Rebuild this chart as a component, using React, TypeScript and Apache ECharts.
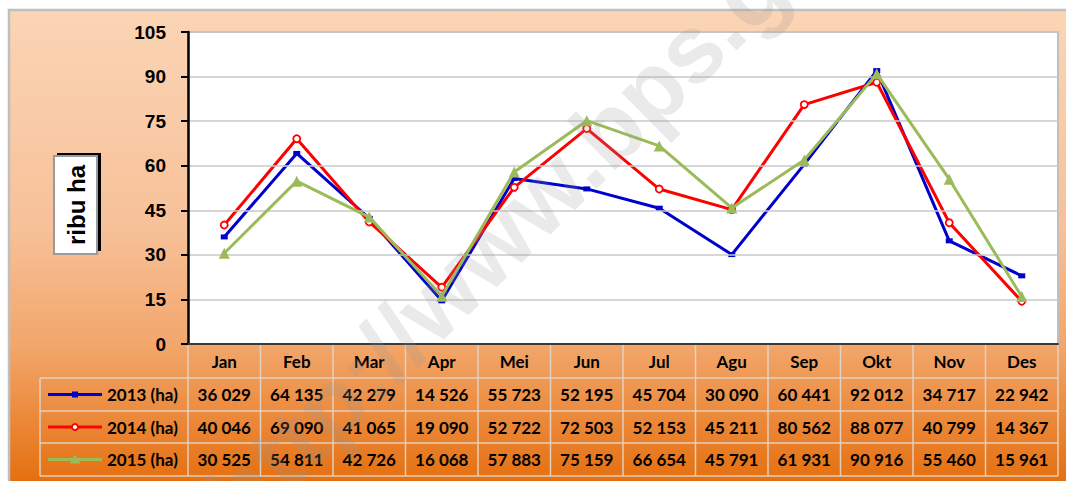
import React, { useEffect, useRef } from "react";
import * as echarts from "echarts";

const months = ["Jan", "Feb", "Mar", "Apr", "Mei", "Jun", "Jul", "Agu", "Sep", "Okt", "Nov", "Des"];
const s2013 = [36029, 64135, 42279, 14526, 55723, 52195, 45704, 30090, 60441, 92012, 34717, 22942];
const s2014 = [40046, 69090, 41065, 19090, 52722, 72503, 52153, 45211, 80562, 88077, 40799, 14367];
const s2015 = [30525, 54811, 42726, 16068, 57883, 75159, 66654, 45791, 61931, 90916, 55460, 15961];
const seriesNames = ["2013 (ha)", "2014 (ha)", "2015 (ha)"];
const yMin = 0;
const yMax = 105;
const yInterval = 15;
const yLabel = "ribu ha";
const watermark = "http://www.bps.go.id";

const colors = ["#0000CC", "#FF0000", "#9BBB59"];
const symbols = ["rect", "circle", "triangle"];
const fmt = (n: number) => n.toString().replace(/\B(?=(\d{3})+(?!\d))/g, " ");

export default function App() {
  const ref = useRef<HTMLDivElement>(null);
  useEffect(() => {
    if (!ref.current) return;
    const chart = echarts.init(ref.current, null, { renderer: "svg" });
    const all = [s2013, s2014, s2015];
    const symbolSizes: any[] = [[7, 5], 7, 11];
    chart.setOption({
      animation: false,
      backgroundColor: "#ffffff",
      grid: {
        left: 188,
        top: 32,
        width: 870,
        height: 312,
        show: true,
        backgroundColor: "#ffffff",
        borderColor: "#BFBFBF",
        borderWidth: 2,
        z: 1,
      },
      xAxis: {
        type: "category",
        data: months,
        boundaryGap: true,
        axisLine: { lineStyle: { color: "#3a3a3a", width: 2 } },
        axisTick: { show: false },
        axisLabel: {
          margin: 17,
          verticalAlign: "middle",
          fontFamily: "Lato",
          fontWeight: "bold",
          fontSize: 17,
          color: "#000",
        },
        splitLine: { show: false },
        z: 5,
      },
      yAxis: {
        type: "value",
        min: yMin,
        max: yMax,
        interval: yInterval,
        axisLine: { show: true, lineStyle: { color: "#000", width: 2.5 } },
        axisTick: { show: true, length: 7, lineStyle: { color: "#000", width: 2 } },
        axisLabel: {
          margin: 22,
          fontFamily: "Liberation Sans",
          fontWeight: "bold",
          fontSize: 19,
          color: "#000",
        },
        splitLine: { show: true, lineStyle: { color: "#C8C8C8", width: 1.5 } },
        z: 5,
      },
      series: all.map((d, i) => ({
        type: "line",
        name: seriesNames[i],
        data: d.map((v) => v / 1000),
        symbol: symbols[i],
        symbolSize: symbolSizes[i],
        showAllSymbol: true,
        lineStyle: { color: colors[i], width: 3 },
        itemStyle:
          i === 1
            ? { color: "#ffffff", borderColor: colors[i], borderWidth: 1.8 }
            : { color: colors[i], borderWidth: 0 },
        z: 3 + i,
      })),
    });

    const gridRight = 1058;
    const axisY = 344;
    const rowLines = [378, 411, 443, 476];
    const legendLeft = 40;
    const lineColor = "rgba(225,215,205,0.9)";
    const textColor = "#000";
    const elements: any[] = [];

    elements.push({
      type: "rect",
      z: -10,
      silent: true,
      shape: { x: 0, y: 0, width: 1066, height: 481 },
      style: { fill: "#ffffff" },
    });
    elements.push({
      type: "rect",
      z: -9,
      silent: true,
      shape: { x: 9, y: 10, width: 1070, height: 480 },
      style: {
        fill: new echarts.graphic.LinearGradient(0, 0, 0, 1, [
          { offset: 0, color: "#FBD5B5" },
          { offset: 0.45, color: "#F7C199" },
          { offset: 0.7, color: "#F2A66B" },
          { offset: 1, color: "#E46C0A" },
        ]),
        stroke: "#BFBFBF",
        lineWidth: 2.5,
      },
    });

    const colW = chart.convertToPixel({ xAxisIndex: 0 }, 1) - chart.convertToPixel({ xAxisIndex: 0 }, 0);
    const centers = months.map((_, i) => chart.convertToPixel({ xAxisIndex: 0 }, i));
    const bounds = [centers[0] - colW / 2, ...centers.map((c) => c + colW / 2)];

    bounds.forEach((bx) => {
      elements.push({
        type: "line",
        z: 10,
        silent: true,
        shape: { x1: bx, y1: axisY + 1, x2: bx, y2: rowLines[3] },
        style: { stroke: lineColor, lineWidth: 1.5 },
      });
    });
    elements.push({
      type: "line",
      z: 10,
      silent: true,
      shape: { x1: legendLeft, y1: rowLines[0], x2: legendLeft, y2: rowLines[3] },
      style: { stroke: lineColor, lineWidth: 1.5 },
    });
    rowLines.forEach((ry) => {
      elements.push({
        type: "line",
        z: 10,
        silent: true,
        shape: { x1: legendLeft, y1: ry, x2: gridRight, y2: ry },
        style: { stroke: lineColor, lineWidth: 1.5 },
      });
    });

    all.forEach((d, r) => {
      const cy = (rowLines[r] + rowLines[r + 1]) / 2;
      d.forEach((v, i) => {
        elements.push({
          type: "text",
          z: 11,
          silent: true,
          style: {
            text: fmt(v),
            x: centers[i],
            y: cy,
            align: "center",
            verticalAlign: "middle",
            fontFamily: "Lato",
            fontWeight: "bold",
            fontSize: 17,
            fill: textColor,
          },
        });
      });
      elements.push({
        type: "line",
        z: 11,
        silent: true,
        shape: { x1: 48, y1: cy, x2: 102, y2: cy },
        style: { stroke: colors[r], lineWidth: 3 },
      });
      if (r === 0) {
        elements.push({
          type: "rect",
          z: 12,
          silent: true,
          shape: { x: 72, y: cy - 3, width: 6, height: 6 },
          style: { fill: colors[r] },
        });
      } else if (r === 1) {
        elements.push({
          type: "circle",
          z: 12,
          silent: true,
          shape: { cx: 75, cy, r: 3 },
          style: { fill: "#fff", stroke: colors[r], lineWidth: 1.8 },
        });
      } else {
        elements.push({
          type: "polygon",
          z: 12,
          silent: true,
          shape: { points: [[75, cy - 5], [80.5, cy + 4], [69.5, cy + 4]] },
          style: { fill: colors[r] },
        });
      }
      elements.push({
        type: "text",
        z: 11,
        silent: true,
        style: {
          text: seriesNames[r],
          x: 107,
          y: cy,
          align: "left",
          verticalAlign: "middle",
          fontFamily: "Lato",
          fontWeight: "bold",
          fontSize: 17,
          fill: textColor,
        },
      });
    });

    elements.push({
      type: "rect",
      z: 11,
      silent: true,
      shape: { x: 57, y: 153, width: 44, height: 98 },
      style: { fill: "#000" },
    });
    elements.push({
      type: "rect",
      z: 12,
      silent: true,
      shape: { x: 54, y: 156, width: 43, height: 98 },
      style: { fill: "#fff", stroke: "#9A9A9A", lineWidth: 2 },
    });
    elements.push({
      type: "text",
      z: 13,
      silent: true,
      x: 76,
      y: 205,
      rotation: Math.PI / 2,
      style: {
        text: yLabel,
        x: 0,
        y: 0,
        align: "center",
        verticalAlign: "middle",
        fontFamily: "Liberation Sans",
        fontWeight: "bold",
        fontSize: 24,
        fill: "#000",
      },
    });

    elements.push({
      type: "text",
      z: 100,
      silent: true,
      x: 222,
      y: 512,
      rotation: 0.78,
      style: {
        text: watermark,
        x: 0,
        y: 0,
        align: "left",
        verticalAlign: "middle",
        fontFamily: "Liberation Sans",
        fontWeight: "bold",
        fontSize: 96,
        fill: "rgba(150,150,150,0.2)",
      },
    });

    chart.setOption({ graphic: { elements } });
    return () => chart.dispose();
  }, []);
  return (
    <div
      ref={ref}
      style={{ position: "absolute", left: 0, top: 0, width: 1066, height: 481 }}
    />
  );
}
